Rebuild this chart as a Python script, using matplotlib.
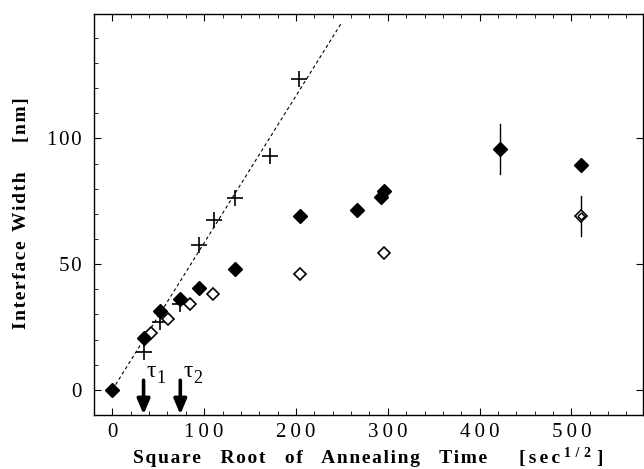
import matplotlib
matplotlib.use("Agg")
import matplotlib.pyplot as plt
from matplotlib.ticker import MultipleLocator, FuncFormatter

# filled diamonds
filled_x = [0, 34, 52, 74, 94, 134, 204, 267, 293, 296, 422, 510]
filled_y = [0, 20.7, 31.3, 36.2, 40.4, 48.1, 69.3, 71.6, 76.9, 78.9, 95.9, 89.5]
# open diamonds
open_x = [42.5, 60.6, 85, 109.6, 204.8, 296.2, 510.5]
open_y = [22.5, 28.2, 34.2, 38.2, 46.1, 54.4, 69.1]
# crosses
plus_x = [34, 51.5, 73.3, 94.4, 110.7, 133.6, 172.1, 203]
plus_y = [15, 26.9, 34.2, 57.7, 67.7, 76.4, 93.2, 123.7]
# error bars (x, y, half-length)
err_x = [422, 510.5]
err_y = [95.9, 69.1]
err_h = [10, 8]
# dashed guide line
fit_x = [0, 249]
fit_y = [0, 145.6]
# characteristic times
tau_x = [34, 74]
tau_sub = ["1", "2"]

plt.rcParams["font.family"] = ["Liberation Serif", "DejaVu Serif"]

HAIR = "\u200a"


def track(s, gap="    ", n=1):
    # widen letter spacing like the original typesetting
    return gap.join((HAIR * n).join(w) for w in s.split(" "))


fig = plt.figure(figsize=(6.44, 4.69), dpi=100)
ax = fig.add_axes([94 / 644, 54 / 469, 549 / 644, 401 / 469])

ax.plot(fit_x, fit_y, ls=(0, (3, 2.5)), color="black", lw=0.8)
for x, y, h in zip(err_x, err_y, err_h):
    ax.plot([x, x], [y - h, y + h], color="black", lw=1)
ax.plot(plus_x, plus_y, "+", color="black", ms=11, mew=1.2)
ax.plot(open_x, open_y, "D", mfc="white", mec="black", ms=6.5, mew=1.2)
ax.plot(open_x[-1:], open_y[-1:], "D", mfc="white", mec="black", ms=3.5, mew=1)
ax.plot(filled_x, filled_y, "D", color="black", ms=7.5)

for x, sub in zip(tau_x, tau_sub):
    ax.annotate("", xy=(x, -9.8), xytext=(x, 3.8),
                arrowprops=dict(arrowstyle="-|>,head_length=0.9,head_width=0.38",
                                lw=2.6, color="black", shrinkA=0, shrinkB=0))
    ax.text(x + 3, 3.0, "\u03c4", fontsize=17, ha="left", va="bottom")
    ax.text(x + 14, 1.0, sub, fontsize=13, ha="left", va="bottom")

ax.set_xlim(-20, 578)
ax.set_ylim(-10, 149.5)
ax.xaxis.set_major_locator(MultipleLocator(100))
ax.xaxis.set_minor_locator(MultipleLocator(20))
ax.yaxis.set_major_locator(MultipleLocator(50))
ax.yaxis.set_minor_locator(MultipleLocator(10))
ax.xaxis.set_major_formatter(FuncFormatter(lambda v, p: "\u2009".join(str(int(round(v))))))
ax.yaxis.set_major_formatter(FuncFormatter(lambda v, p: HAIR.join(str(int(round(v))))))
ax.tick_params(which="both", direction="in", top=True, right=True)
ax.tick_params(axis="x", labelsize=15)
ax.tick_params(axis="y", labelsize=15)
ax.tick_params(which="major", length=5, width=0.8)
ax.tick_params(which="minor", length=3, width=0.6)
ax.tick_params(axis="x", which="major", pad=6)
ax.tick_params(axis="y", which="major", pad=9)
ax.tick_params(axis="y", which="minor", right=False)
for s in ax.spines.values():
    s.set_linewidth(1)

# x label in pieces, it sits right at the bottom edge in the original
base = 6 / 469
fig.text(133 / 644, base, track("Square Root of Annealing Time"),
         fontsize=14, fontweight="bold", ha="left", va="baseline")
fig.text(519 / 644, base, track("[sec", n=2),
         fontsize=14, fontweight="bold", ha="left", va="baseline")
fig.text(564 / 644, 12 / 469, (" " + HAIR).join("1/2"),
         fontsize=10, fontweight="bold", ha="left", va="baseline")
fig.text(596 / 644, base, "]",
         fontsize=14, fontweight="bold", ha="left", va="baseline")

fig.text(22 / 644, (469 - 213) / 469,
         track("Interface Width", "  ") + "      " + track("[nm]"),
         fontsize=14, fontweight="bold", rotation=90, ha="center", va="center")

fig.savefig("out.png", dpi=100)
